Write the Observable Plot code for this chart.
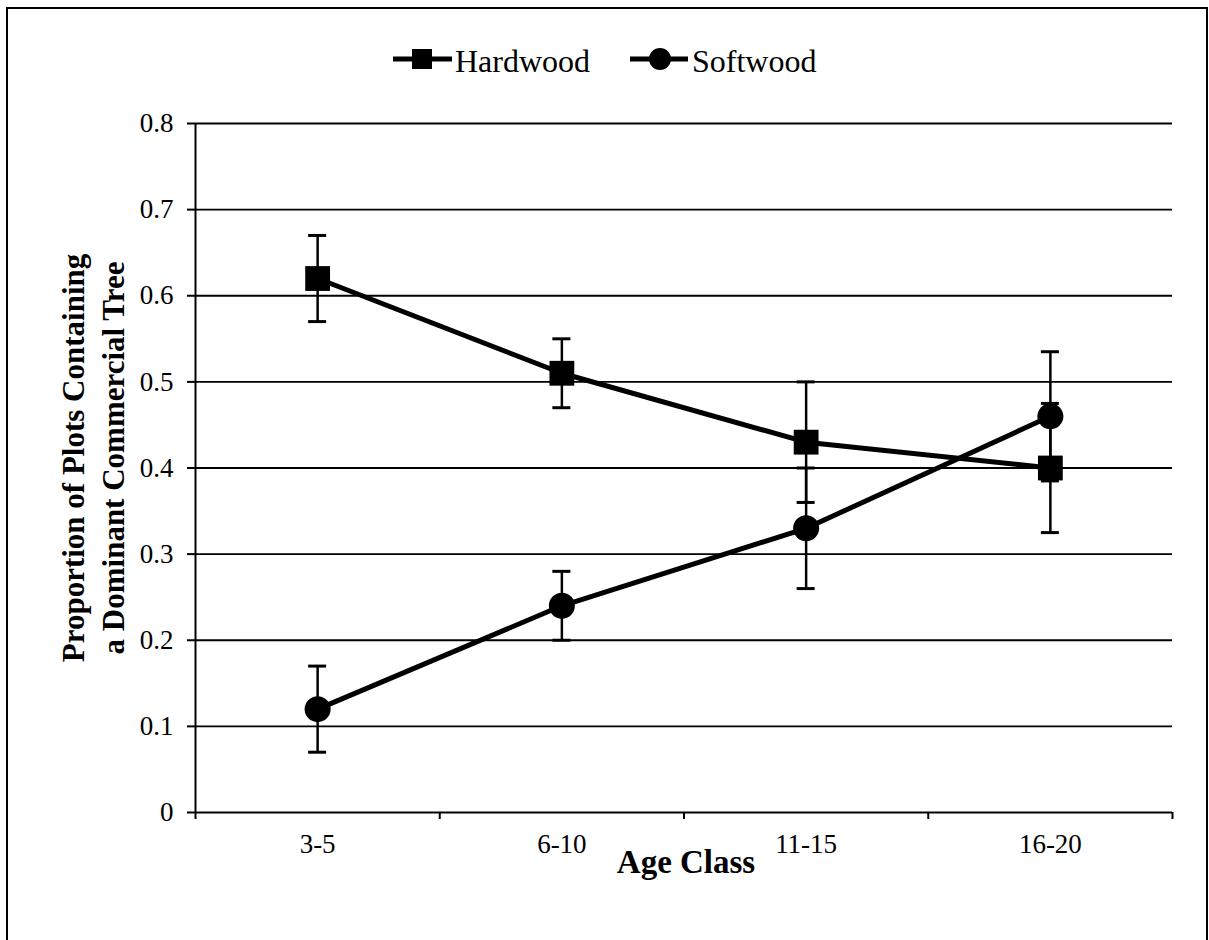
<!DOCTYPE html>
<html><head><meta charset="utf-8">
<script src="https://cdn.jsdelivr.net/npm/d3@7"></script>
<script src="https://cdn.jsdelivr.net/npm/@observablehq/plot@0.6"></script>
<style>
body{margin:0;background:#fff;}
#wrap{position:relative;width:1209px;height:940px;overflow:hidden;background:#fff;font-family:"Liberation Serif","Times New Roman",serif;}
#frame{position:absolute;left:6px;top:7px;width:1202px;height:960px;border:2px solid #000;box-sizing:border-box;}
#chart{position:absolute;left:0;top:0;}
#legend{position:absolute;left:0;top:0;}
</style></head><body>
<div id="wrap"><div id="frame"></div><div id="chart"></div><svg id="legend" width="1209" height="100"></svg></div>
<script>
const ageClasses = ["3-5", "6-10", "11-15", "16-20"];
const seriesNames = ["Hardwood", "Softwood"];
const hardwood = [0.62, 0.51, 0.43, 0.40];
const hardwoodErr = [0.05, 0.04, 0.07, 0.075];
const softwood = [0.12, 0.24, 0.33, 0.46];
const softwoodErr = [0.05, 0.04, 0.07, 0.075];
const yTicks = [0, 0.1, 0.2, 0.3, 0.4, 0.5, 0.6, 0.7, 0.8];
const yTickLabels = ["0", "0.1", "0.2", "0.3", "0.4", "0.5", "0.6", "0.7", "0.8"];
const yTitle = "Proportion of Plots Containing\na Dominant Commercial Tree";
const xTitle = "Age Class";

const values = [hardwood, softwood];
const errs = [hardwoodErr, softwoodErr];
const data = seriesNames.flatMap((s, k) => ageClasses.map((a, i) => ({
  s, age: a, x: i + 0.5, y: values[k][i], e: errs[k][i]
})));

const font = "Liberation Serif";
const chart = Plot.plot({
  width: 1209, height: 940,
  marginLeft: 195, marginRight: 37, marginTop: 123, marginBottom: 128,
  style: {fontFamily: font, fontSize: "27px", color: "#000", background: "transparent", overflow: "visible"},
  x: {domain: [0, ageClasses.length], axis: null},
  y: {domain: [0, 0.8], axis: null},
  marks: [
    Plot.ruleY(yTicks.filter(t => t > 0), {x1: 0, x2: ageClasses.length, stroke: "#000", strokeWidth: 1.8}),
    Plot.ruleY([0], {x1: 0, x2: ageClasses.length, stroke: "#000", strokeWidth: 2}),
    Plot.ruleX([0], {y1: 0, y2: 0.8, stroke: "#000", strokeWidth: 2}),
    Plot.axisY({ticks: yTicks, tickSize: 8, tickPadding: 14, strokeWidth: 2, label: null,
      tickFormat: d => yTickLabels[yTicks.indexOf(d)], fontSize: 27, fontFamily: font}),
    Plot.axisX({ticks: d3.range(ageClasses.length + 1), tickSize: 7, strokeWidth: 2, label: null, tickFormat: () => ""}),
    Plot.axisX({ticks: ageClasses.map((_, i) => i + 0.5), tickSize: 0, tickPadding: 21, label: null,
      tickFormat: d => ageClasses[Math.floor(d)], fontSize: 27, fontFamily: font}),
    Plot.ruleX(data, {x: "x", y1: d => d.y - d.e, y2: d => d.y + d.e, stroke: "#000", strokeWidth: 2.5}),
    Plot.ruleY(data, {y: d => d.y + d.e, x1: "x", x2: "x", insetLeft: -9, insetRight: -9, stroke: "#000", strokeWidth: 3}),
    Plot.ruleY(data, {y: d => d.y - d.e, x1: "x", x2: "x", insetLeft: -9, insetRight: -9, stroke: "#000", strokeWidth: 3}),
    Plot.line(data, {x: "x", y: "y", z: "s", stroke: "#000", strokeWidth: 5}),
    Plot.dot(data.filter(d => d.s === seriesNames[0]), {x: "x", y: "y", symbol: "square", r: 14, fill: "#000"}),
    Plot.dot(data.filter(d => d.s === seriesNames[1]), {x: "x", y: "y", symbol: "circle", r: 13, fill: "#000"}),
    Plot.text([yTitle], {frameAnchor: "left", text: d => d, rotate: -90, textAnchor: "middle", lineAnchor: "middle",
      dx: -104, dy: -10, fontSize: 31, fontWeight: "bold", lineHeight: 1.29, fontFamily: font, fill: "#000"}),
    Plot.text([xTitle], {frameAnchor: "bottom", text: d => d, textAnchor: "middle", lineAnchor: "middle",
      dx: 2, dy: 50, fontSize: 33, fontWeight: "bold", fontFamily: font, fill: "#000"})
  ]
});
document.getElementById("chart").appendChild(chart);

// legend
const lg = d3.select("#legend");
const items = [
  {name: seriesNames[0], x0: 393, x1: 452, cx: 422, tx: 455, sym: "square"},
  {name: seriesNames[1], x0: 630, x1: 688, cx: 660, tx: 692, sym: "circle"}
];
for (const it of items) {
  lg.append("line").attr("x1", it.x0).attr("x2", it.x1).attr("y1", 59).attr("y2", 59)
    .attr("stroke", "#000").attr("stroke-width", 5);
  if (it.sym === "square") lg.append("rect").attr("x", it.cx - 10).attr("y", 49).attr("width", 20).attr("height", 20).attr("fill", "#000");
  else lg.append("circle").attr("cx", it.cx).attr("cy", 59).attr("r", 11).attr("fill", "#000");
  lg.append("text").attr("x", it.tx).attr("y", 72).attr("font-family", font).attr("font-size", 32)
    .attr("fill", "#000").text(it.name);
}
</script>
</body></html>
